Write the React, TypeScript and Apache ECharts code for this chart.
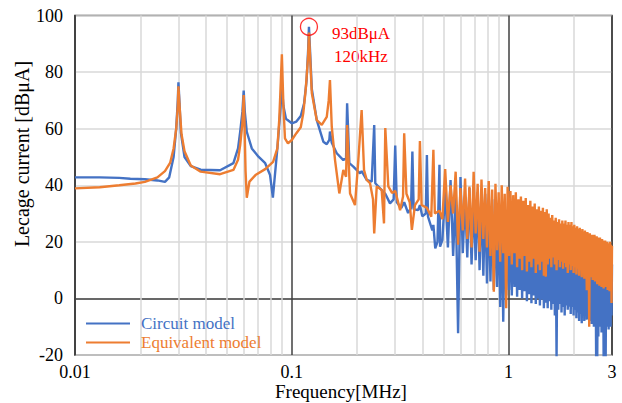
import React, { useEffect, useRef } from "react";
import * as echarts from "echarts";

// ---- Data ----
const xTickLabels = ["0.01", "0.1", "1", "3"];
const minorGridFreqs = [0.02, 0.03, 0.04, 0.05, 0.06, 0.07, 0.08, 0.09, 0.2, 0.3, 0.4, 0.5, 0.6, 0.7, 0.8, 0.9, 2];
const seriesNames = ["Circuit model", "Equivalent model"];
const xAxisTitle = "Frequency[MHz]";
const yAxisTitle = "Lecage current [dBμA]";

// Low-frequency part [frequency MHz, dBμA]
const circuitLow: [number, number][] = [
  [0.01, 42.8], [0.013, 42.8], [0.016, 42.6], [0.018, 42.3], [0.021, 42.1], [0.024, 41.7], [0.026, 41.2],
  [0.0272, 42.8], [0.0285, 50], [0.0293, 60], [0.0298, 70], [0.03, 76.4], [0.0303, 70], [0.0308, 58.5],
  [0.032, 50], [0.0342, 46.8], [0.038, 45.5], [0.0467, 45.3], [0.0538, 47.8], [0.0565, 53], [0.0578, 58.9],
  [0.0592, 66], [0.06, 73.5], [0.0607, 66], [0.062, 58.9], [0.0654, 53], [0.0702, 50.1], [0.0754, 47.8],
  [0.0794, 43.6], [0.0818, 35.6], [0.0858, 53], [0.0885, 66], [0.09, 75], [0.0915, 68], [0.094, 63.5],
  [0.1, 61.9], [0.105, 62.5], [0.11, 64.5], [0.114, 69], [0.117, 77], [0.119, 88], [0.12, 96],
  [0.1215, 87], [0.1237, 74], [0.1304, 63], [0.1398, 55.4], [0.145, 54.5], [0.149, 56], [0.15, 59],
  [0.1529, 55], [0.1612, 51.3], [0.1729, 48.9], [0.178, 49.5], [0.18, 69], [0.1843, 47.8], [0.1923, 46.6],
  [0.2064, 44.2], [0.21, 45], [0.2216, 41.9], [0.2337, 41.3], [0.24, 61.3], [0.2428, 40.7], [0.2553, 38.9],
  [0.27, 37], [0.2838, 33.6], [0.295, 35], [0.3, 54], [0.305, 34], [0.32, 32], [0.33, 34], [0.344, 30.2],
  [0.355, 32], [0.36, 51.9], [0.365, 31.5], [0.383, 31.2], [0.39, 33], [0.4, 29], [0.415, 30], [0.42, 50.7],
  [0.425, 28.9], [0.445, 24], [0.45, 26], [0.459, 17.7], [0.47, 20], [0.48, 47.2], [0.483, 18.3], [0.495, 20.6],
];

const equivalentLow: [number, number][] = [
  [0.01, 38.9], [0.013, 39.3], [0.016, 40], [0.019, 40.6], [0.021, 41.2], [0.024, 42.8], [0.026, 45],
  [0.0275, 48], [0.0285, 53], [0.0293, 60], [0.0298, 68], [0.03, 75], [0.0303, 69], [0.031, 58],
  [0.032, 52], [0.0342, 47], [0.038, 44.8], [0.0467, 43.9], [0.0538, 45.4], [0.0565, 49], [0.0578, 54.2],
  [0.0592, 62], [0.06, 71.9], [0.0606, 60], [0.0612, 45], [0.062, 35.6], [0.0638, 41.3], [0.068, 43.6],
  [0.0754, 45.7], [0.082, 48.3], [0.0858, 53], [0.0875, 63], [0.0885, 72], [0.09, 86.3], [0.0915, 68],
  [0.093, 56.6], [0.096, 54.8], [0.1, 56], [0.105, 58.4], [0.11, 60.5], [0.113, 65.5], [0.116, 74],
  [0.119, 86], [0.12, 94], [0.1215, 85], [0.1237, 72.6], [0.1304, 63], [0.1375, 61.3], [0.145, 64.2],
  [0.148, 70], [0.15, 77.2], [0.1529, 60.7], [0.1583, 48.9], [0.1657, 37.1], [0.1729, 45.4], [0.178, 43],
  [0.18, 61.3], [0.1857, 37.1], [0.1957, 33], [0.2028, 49], [0.21, 66.6], [0.2154, 45.4], [0.2216, 41.9],
  [0.2296, 40.7], [0.237, 35], [0.24, 23], [0.2465, 39.6], [0.2599, 38.3], [0.2663, 26.5], [0.27, 60.2],
  [0.2788, 39.6], [0.29, 37.3], [0.3, 38], [0.316, 31.2], [0.326, 36], [0.33, 58.4], [0.338, 37],
  [0.35, 34], [0.358, 24.2], [0.37, 33], [0.385, 35], [0.39, 55.6], [0.397, 33], [0.42, 32], [0.44, 28.9],
  [0.45, 52.5], [0.457, 30], [0.48, 31], [0.495, 28],
];

// Dense harmonic part: harmonics of the 30 kHz switching frequency, n = 17 .. 100
const FUND = 0.03;
const HARM_START = 17;

const circuitPeaks = [
  38, 41.8, 37, 42.9, 36, 39, 35, 37.5, 36.5, 37, 34, 35, 32, 33.5, 31, 32, 30,
  31, 29, 30, 28, 29, 27, 28, 26.5, 27, 25.5, 26, 25, 25.5, 24, 25, 23.5, 24,
  22.5, 23, 22, 22.5, 21, 21.5, 20.5, 21, 20, 20.5, 19.5, 20, 19, 19.5, 18.5, 19, 18,
  18.5, 17.5, 18, 17, 17.5, 16.5, 17, 16, 16.5, 15.5, 16, 15, 15.5, 15, 15.5, 14.5, 15,
  14, 14.5, 14, 14.5, 13.5, 14, 13.5, 14, 13, 13.5, 13, 13.5, 12.5, 13, 12.5, 12,
];
const circuitTroughs = [
  18, 15, -12.3, 16, 14.5, 12, 13.5, 10, 8, 5.3, 6, 3, 4, -3, -8.2, 1,
  3, 1, 4, 0.6, 3, 0, 2.5, -1, 1.5, -1.7, 1, -2, 0, -2.5, -0.5, -3.5, -1.5,
  -3.5, -1, -4, -2, -6, -21, -4, -2, -5, -3, -6, -2.5, -4, -2.9, -5.5, -3, -6,
  -4, -7, -5, -8, -5.5, -8.8, -6, -8, -5, -7.5, -5, -8, -6, -9, -7, -10, -8,
  -21, -21, -13.5, -10, -8, -12, -9, -21, -9, -21, -10, -8, -11, -7, -10, -6,
];
const equivalentPeaks = [
  45.7, 40, 44.8, 39, 42.4, 39.5, 44.8, 40.5, 42, 39, 41.5, 38.5, 40.5, 37.5, 40, 37, 39.5,
  38, 36.5, 37.5, 35, 36, 34.5, 35.5, 33, 34.5, 32.5, 33.5, 31.5, 32.5, 31, 32, 30.5, 31.5,
  30, 28.5, 29.5, 27.5, 28.5, 27, 28, 26.5, 27.5, 26.5, 27.5, 26, 27, 26, 27, 25.5, 26,
  25, 25.5, 24.5, 25, 24, 24.5, 23.5, 24, 23, 23.5, 22.5, 23, 22, 22.5, 22, 22.5, 21.5,
  22, 21.5, 21, 21.5, 20.5, 21, 20.5, 20, 20.5, 19.5, 20, 19.5, 19, 20, 19, 18.5,
];
const equivalentTroughs = [
  27, 30, 19, 24, 21, 18, 23, 16.5, 21, 18, 15, 2.4, 17, 13, 16, -3.5,
  15, 12, 16, 11, 14, 10, 15, 9.5, 13, 11, 14, 9, 12, 10, 13, 8, 7.7,
  12, 14, 11, 14.5, 12, 10, 13.6, 11, 13, 10.5, 12.5, 11, 9, 12, 10, 11.5, 9,
  11, 8.5, 10.5, 8, 10, 7.5, 9.5, 7, 9, 2.9, 8, -10, 7.5, 9, 6.5, 8.5, 6,
  7, 5, 6.5, 4.5, 6, 4, 5.5, 3.5, 5, 4, 5.5, 3, 4.5, 2.5, 4, -1.6,
];

const annotationPoint: [number, number] = [0.12, 96];
const annotationLines = ["93dBμA", "120kHz"];

function withHarmonics(low: [number, number][], peaks: number[], troughs: number[]) {
  const out: [number, number][] = low.slice();
  peaks.forEach((p, i) => {
    const n = HARM_START + i;
    out.push([+(FUND * n).toFixed(4), p]);
    if (i < troughs.length) out.push([+(FUND * (n + 0.5)).toFixed(4), troughs[i]]);
  });
  return out;
}

const FONT = "Liberation Serif";
const BLUE = "#4472C4";
const ORANGE = "#ED7D31";

export default function App() {
  const ref = useRef<HTMLDivElement>(null);
  useEffect(() => {
    if (!ref.current) return;
    const chart = echarts.init(ref.current, undefined, { renderer: "svg" });
    const circuit = withHarmonics(circuitLow, circuitPeaks, circuitTroughs);
    const equivalent = withHarmonics(equivalentLow, equivalentPeaks, equivalentTroughs);
    chart.setOption({
      animation: false,
      backgroundColor: "#fff",
      textStyle: { fontFamily: FONT },
      grid: {
        left: 75, right: 10, top: 15.5, bottom: 48, show: true,
        borderColor: "#404040", borderWidth: 1.5, backgroundColor: "transparent",
      },
      xAxis: {
        type: "log", logBase: 10, min: 0.01, max: 3,
        axisLine: { show: true, lineStyle: { color: "#404040", width: 1.5 } },
        axisTick: { show: false },
        axisLabel: {
          fontFamily: FONT, fontSize: 18, color: "#000", margin: 8,
          showMinLabel: true, showMaxLabel: true,
          formatter: (v: number) =>
            xTickLabels.find((l) => Math.abs(Math.log10(+l) - Math.log10(v)) < 0.01) ?? "",
        },
        splitLine: { show: true, lineStyle: { color: "#404040", width: 1.5 } },
      },
      yAxis: {
        type: "value", min: -20, max: 100, interval: 20,
        axisLine: { show: true, lineStyle: { color: "#404040", width: 1.5 } },
        axisTick: { show: false },
        axisLabel: { fontFamily: FONT, fontSize: 18, color: "#000", margin: 12 },
        splitLine: { show: true, lineStyle: { color: "#D9D9D9", width: 1.5 } },
      },
      legend: {
        orient: "vertical", left: 81, top: 310, itemWidth: 44, itemHeight: 2, itemGap: 2,
        icon: "rect",
        textStyle: { fontFamily: FONT, fontSize: 17, padding: [0, 0, 0, 6] },
        data: [
          { name: seriesNames[0], textStyle: { color: BLUE } },
          { name: seriesNames[1], textStyle: { color: ORANGE } },
        ],
      },
      series: [
        {
          type: "line", name: "grid", data: [], silent: true, z: 1,
          markLine: {
            silent: true, symbol: "none", z: 1, label: { show: false },
            lineStyle: { color: "#D9D9D9", width: 1.5, type: "solid" },
            data: minorGridFreqs.map((f) => ({ xAxis: f })),
          },
        },
        {
          type: "line", name: seriesNames[0], data: circuit, showSymbol: false, z: 3,
          lineStyle: { color: BLUE, width: 2.4 }, itemStyle: { color: BLUE },
        },
        {
          type: "line", name: seriesNames[1], data: equivalent, showSymbol: false, z: 4,
          lineStyle: { color: ORANGE, width: 2.4 }, itemStyle: { color: ORANGE },
        },
        {
          type: "scatter", name: "peak", data: [annotationPoint], symbol: "circle", symbolSize: 17, z: 5,
          itemStyle: { color: "rgba(0,0,0,0)", borderColor: "#FF0000", borderWidth: 1.3 },
          silent: true,
        },
      ],
      graphic: [
        {
          type: "text", x: 22, y: 154, rotation: Math.PI / 2,
          style: {
            text: yAxisTitle, fill: "#000", font: `20px "${FONT}"`,
            textAlign: "center", textVerticalAlign: "middle",
          },
        },
        {
          type: "text", x: 341, y: 391,
          style: {
            text: xAxisTitle, fill: "#000", font: `19px "${FONT}"`,
            textAlign: "center", textVerticalAlign: "middle",
          },
        },
        {
          type: "text", x: 361, y: 33,
          style: { text: annotationLines[0], fill: "#FF0000", font: `17px "${FONT}"`, textAlign: "center", textVerticalAlign: "middle" },
        },
        {
          type: "text", x: 361, y: 56.5,
          style: { text: annotationLines[1], fill: "#FF0000", font: `17px "${FONT}"`, textAlign: "center", textVerticalAlign: "middle" },
        },
      ],
    });
    return () => chart.dispose();
  }, []);
  return <div ref={ref} style={{ position: "fixed", left: 0, top: 0, width: 622, height: 403 }} />;
}
